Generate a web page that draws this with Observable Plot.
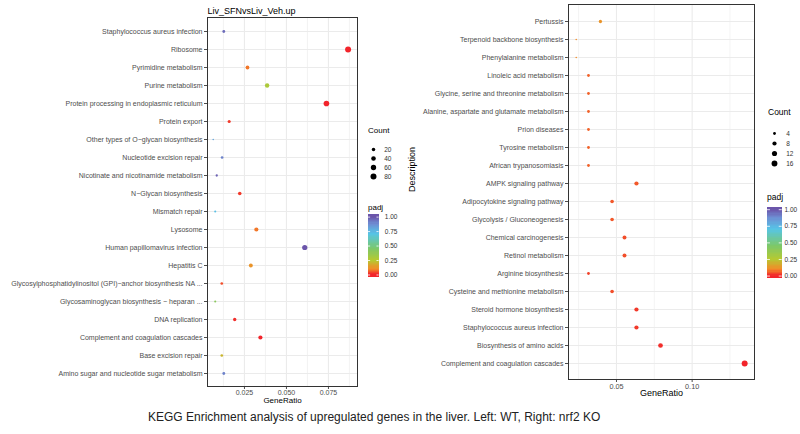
<!DOCTYPE html>
<html><head><meta charset="utf-8">
<script src="https://cdn.jsdelivr.net/npm/d3@7"></script>
<script src="https://cdn.jsdelivr.net/npm/@observablehq/plot@0.6"></script>
<style>
body{margin:0;background:#fff;}
#wrap{position:relative;width:800px;height:434px;overflow:hidden;background:#fff;font-family:"Liberation Sans",Arial,Helvetica,sans-serif;}
#wrap > *{position:absolute;}
.ttl{font-size:8px;color:#000;line-height:10px;white-space:nowrap;}
</style></head><body><div id="wrap"></div>
<script>
// ---------- Left panel (WT) ----------
const leftTitle = "Liv_SFNvsLiv_Veh.up";
const leftTerms = [
  "Staphylococcus aureus infection","Ribosome","Pyrimidine metabolism","Purine metabolism",
  "Protein processing in endoplasmic reticulum","Protein export","Other types of O\u2212glycan biosynthesis",
  "Nucleotide excision repair","Nicotinate and nicotinamide metabolism","N\u2212Glycan biosynthesis",
  "Mismatch repair","Lysosome","Human papillomavirus infection","Hepatitis C",
  "Glycosylphosphatidylinositol (GPI)\u2212anchor biosynthesis NA ...","Glycosaminoglycan biosynthesis \u2212 heparan ...",
  "DNA replication","Complement and coagulation cascades","Base excision repair","Amino sugar and nucleotide sugar metabolism"
];
const leftRatio = [0.0127,0.0867,0.0268,0.0385,0.0738,0.0159,0.0064,0.0117,0.0085,0.0222,
                   0.0076,0.0321,0.0609,0.0288,0.0115,0.0076,0.0192,0.0345,0.0115,0.0127];
const leftCount = [12,81,25,36,69,15,6,11,8,21,7,30,57,27,11,7,18,32,11,12];
const leftPadj  = [0.95,0.0,0.08,0.28,0.0,0.02,0.8,0.9,0.97,0.02,0.72,0.08,1.0,0.12,0.04,0.4,0.01,0.0,0.2,0.9];
const leftXTicks = [0.025,0.05,0.075];
const leftXMinor = [0.0125,0.0375,0.0625,0.0875];
const leftSizeLegend = [20,40,60,80];

// ---------- Right panel (nrf2 KO) ----------
const rightTerms = [
  "Pertussis","Terpenoid backbone biosynthesis","Phenylalanine metabolism","Linoleic acid metabolism",
  "Glycine, serine and threonine metabolism","Alanine, aspartate and glutamate metabolism","Prion diseases",
  "Tyrosine metabolism","African trypanosomiasis","AMPK signaling pathway","Adipocytokine signaling pathway",
  "Glycolysis / Gluconeogenesis","Chemical carcinogenesis","Retinol metabolism","Arginine biosynthesis",
  "Cysteine and methionine metabolism","Steroid hormone biosynthesis","Staphylococcus aureus infection",
  "Biosynthesis of amino acids","Complement and coagulation cascades"
];
const rightRatio = [0.0394,0.0234,0.0234,0.0315,0.0315,0.0315,0.0315,0.0315,0.0315,0.0632,
                    0.0471,0.0471,0.0553,0.0553,0.0315,0.0471,0.0632,0.0632,0.0791,0.1347];
const rightCount = [5,3,3,4,4,4,4,4,4,8,6,6,7,7,4,6,8,8,10,17];
const rightPadj  = [0.12,0.1,0.1,0.06,0.06,0.06,0.06,0.06,0.06,0.05,0.05,0.05,0.04,0.04,0.03,0.04,0.02,0.02,0.01,0.0];
const rightXTicks = [0.05,0.10];
const rightXMinor = [0.025,0.075,0.125];
const rightSizeLegend = [4,8,12,16];

const padjTicks = [0,0.25,0.5,0.75,1];
const caption = "KEGG Enrichment analysis of upregulated genes in the liver. Left: WT, Right: nrf2 KO";

// ---------- shared styling ----------
const FONT = '"Liberation Sans",Arial,Helvetica,sans-serif';
const colorOpts = {
  type: "linear",
  domain: [0, 0.1, 0.25, 0.45, 0.7, 0.87, 1],
  range: ["#F2242B", "#F28C28", "#B5C932", "#7CC86A", "#56C5E6", "#6E8FD4", "#6B55AA"]
};
// ggplot-like area scaling of point size
const sizeScale = (dom) => ({type: "linear", domain: dom, range: [0, 1], interpolate: t => 0.8 + 2.2 * Math.sqrt(Math.max(0, t))});

const wrap = document.getElementById("wrap");
function place(el, left, top) { el.style.left = left + "px"; el.style.top = top + "px"; wrap.appendChild(el); return el; }
function label(text, left, top, size) {
  const d = document.createElement("div"); d.className = "ttl"; d.textContent = text;
  if (size) d.style.fontSize = size + "px";
  return place(d, left, top);
}

function panel(o) {
  const data = o.terms.map((t, i) => ({term: t, ratio: o.ratio[i], count: o.count[i], padj: o.padj[i]}));
  const marks = [
    Plot.ruleX(o.minor, {stroke: "#EBEBEB", strokeWidth: 0.6}),
    Plot.ruleX(o.ticks, {stroke: "#EBEBEB", strokeWidth: 1.1}),
    Plot.ruleY(o.terms, {stroke: "#EBEBEB", strokeWidth: 1.1}),
    Plot.axisX({ticks: o.ticks, tickFormat: d3.format(o.fmt), tickSize: 3, tickPadding: 1, fontSize: o.tickFont, color: "#4D4D4D", label: null}),
    Plot.axisY({tickSize: 3, tickPadding: 2, fontSize: 7, color: "#4D4D4D", label: null}),
    Plot.dot(data, {x: "ratio", y: "term", r: "count", fill: "padj"}),
    Plot.frame({stroke: "#333", strokeWidth: 1}),
    Plot.text(["GeneRatio"], {frameAnchor: "bottom", dy: o.titleDy, text: d => d, fontSize: o.axisTitleFont, fill: "#000"})
  ];
  if (o.title) marks.push(Plot.text([o.title], {frameAnchor: "top-left", dy: -10, text: d => d, fontSize: 9, fill: "#000", textAnchor: "start"}));
  if (o.ylab) marks.push(Plot.text([o.ylab], {frameAnchor: "left", dx: o.ylabDx, rotate: -90, text: d => d, fontSize: 9, fill: "#000"}));
  return Plot.plot({
    width: o.width, height: o.height,
    marginLeft: o.ml, marginRight: o.mr, marginTop: o.mt, marginBottom: o.mb,
    style: {fontFamily: FONT, background: "transparent", overflow: "visible"},
    x: {domain: o.xDomain, label: null},
    y: {type: "point", domain: o.terms, padding: 0.6, label: null},
    r: sizeScale(o.rDomain),
    color: colorOpts,
    marks
  });
}

function sizeLegend(values, rDomain, w, yRange, dotX, labelX) {
  return Plot.plot({
    width: w, height: yRange[1] + 8, margin: 0,
    style: {fontFamily: FONT, background: "transparent", overflow: "visible"},
    x: {domain: [0, w], range: [0, w], axis: null},
    y: {type: "point", domain: values, range: yRange, axis: null},
    r: sizeScale(rDomain),
    marks: [
      Plot.dot(values, {x: () => dotX, y: d => d, r: d => d, fill: "#000"}),
      Plot.text(values, {x: () => labelX, y: d => d, text: d => String(d), textAnchor: "start", fontSize: 6.5, fill: "#333"})
    ]
  });
}

function colorBar(barW, yRange, gap) {
  const stops = d3.range(-0.04, 1.04, 0.02);
  return Plot.plot({
    width: barW + 30, height: yRange[0] + 8, marginLeft: 0, marginRight: 30, marginTop: 0, marginBottom: 0,
    style: {fontFamily: FONT, background: "transparent", overflow: "visible"},
    x: {domain: [0, 1], axis: null},
    y: {domain: [0, 1], range: yRange, label: null},
    color: colorOpts,
    marks: [
      Plot.rect(stops, {x1: 0, x2: 1, y1: d => d, y2: d => Math.min(1.04, d + 0.03), fill: d => Math.max(0, Math.min(1, d + 0.01)), shapeRendering: "crispEdges"}),
      Plot.ruleY(padjTicks, {x1: 0, x2: 0.2, stroke: "#fff", strokeWidth: 0.8}),
      Plot.ruleY(padjTicks, {x1: 0.8, x2: 1, stroke: "#fff", strokeWidth: 0.8}),
      Plot.axisY({anchor: "right", ticks: padjTicks, tickFormat: d3.format(".2f"), tickSize: 0, tickPadding: gap, fontSize: 6.5, color: "#333", label: null})
    ]
  });
}

// Left
place(panel({
  terms: leftTerms, ratio: leftRatio, count: leftCount, padj: leftPadj,
  ticks: leftXTicks, minor: leftXMinor, fmt: ".3f",
  xDomain: [0.003, 0.0923], rDomain: [6, 81],
  width: 400, height: 410, ml: 207, mr: 43, mt: 17, mb: 24,
  tickFont: 7, axisTitleFont: 8, titleDy: 16, title: leftTitle
}), 0, 0);
label("Count", 368, 126);
place(sizeLegend(leftSizeLegend, [6, 81], 30, [144.3 - 138, 181.3 - 138], 5, 15.7), 368, 138);
label("padj", 368, 203);
place(colorBar(10.6, [274.5 - 200, 216.6 - 200], 5.7), 367.7, 200);

// Right
place(panel({
  terms: rightTerms, ratio: rightRatio, count: rightCount, padj: rightPadj,
  ticks: rightXTicks, minor: rightXMinor, fmt: ".2f",
  xDomain: [0.0183, 0.1412], rDomain: [3, 17],
  width: 400, height: 405, ml: 168, mr: 46, mt: 4, mb: 26,
  tickFont: 7.3, axisTitleFont: 9, titleDy: 16, ylab: "Description", ylabDx: -156
}), 400, 0);
label("Count", 768, 107, 8.5);
place(sizeLegend(rightSizeLegend, [3, 17], 32, [127.3 - 118, 169.7 - 118], 6, 17.7), 768, 118);
label("padj", 767, 192, 8.5);
place(colorBar(14.7, [275.6 - 200, 209.2 - 200], 2.3), 767.3, 200);

// Caption
const cap = document.createElement("div");
cap.textContent = caption;
cap.style.cssText = "font-size:12px;color:#222;white-space:nowrap;line-height:14px;";
place(cap, 148, 409.5);
</script></body></html>
